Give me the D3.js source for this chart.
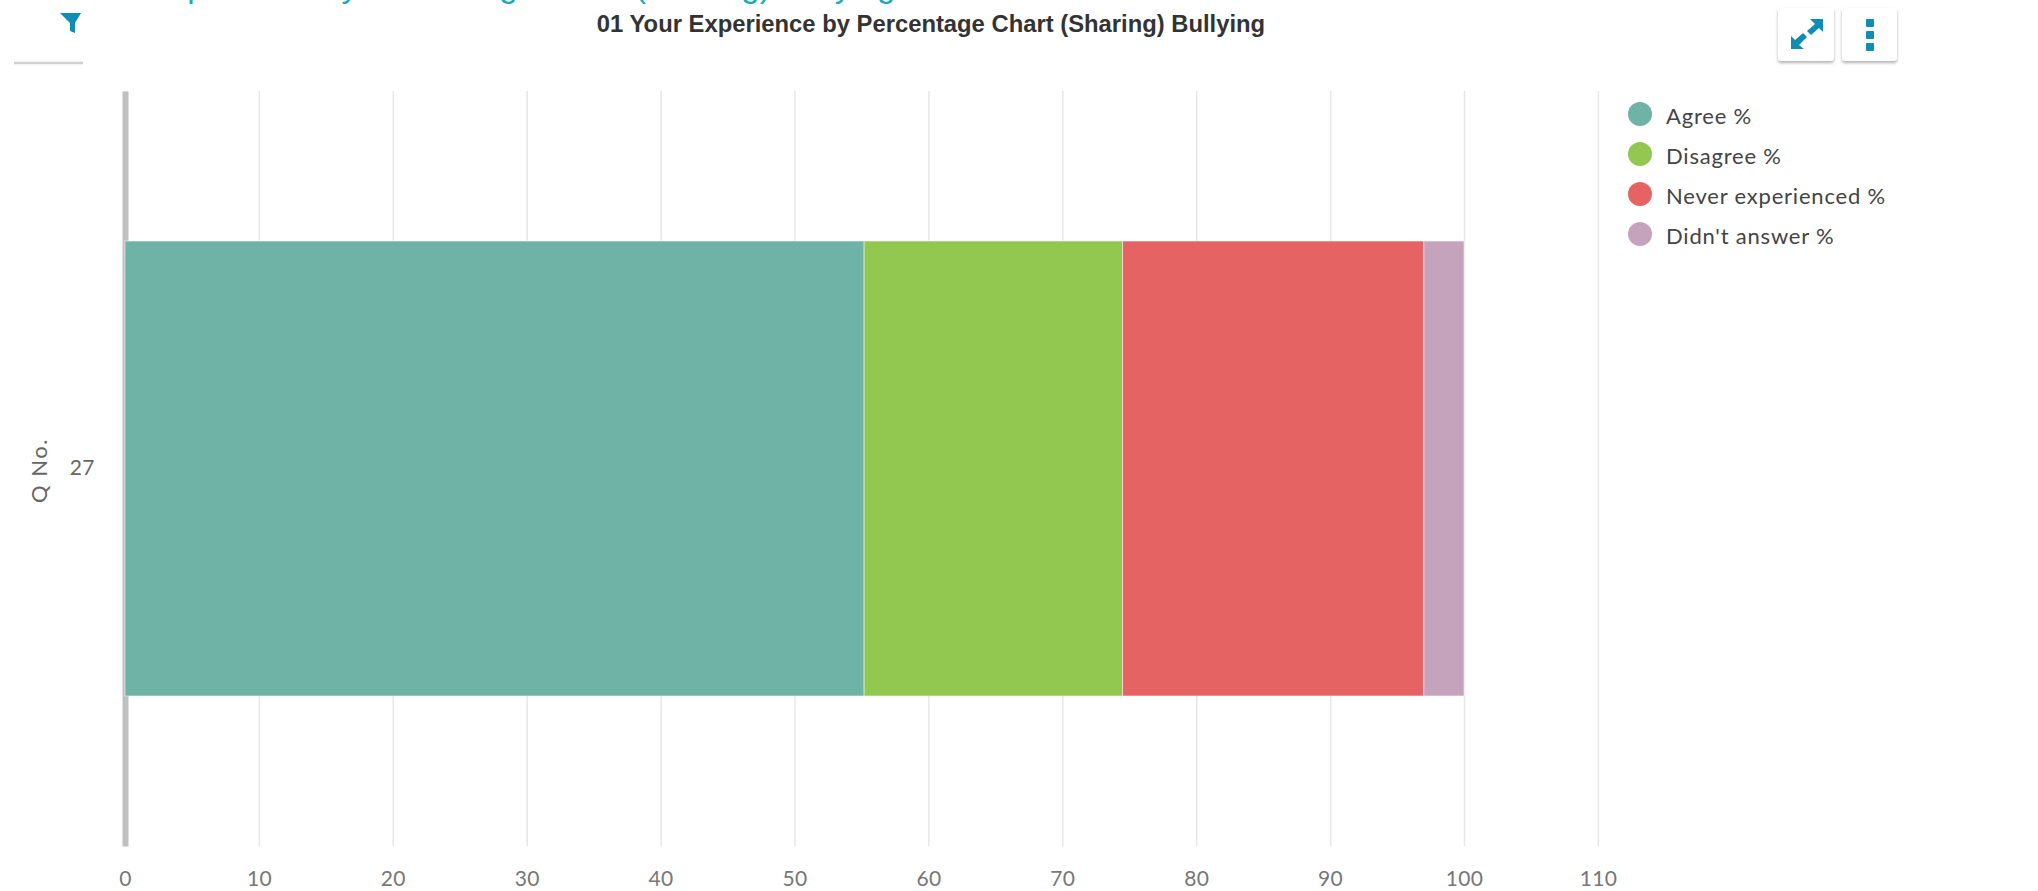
<!DOCTYPE html>
<html>
<head>
<meta charset="utf-8">
<script src="https://cdn.jsdelivr.net/npm/d3@7"></script>
<style>
  html, body { margin: 0; padding: 0; background: #fff; overflow: hidden; }
  svg { display: block; }
  .tick text { font-family: Lato, sans-serif; }
  .btn { fill: #fff; filter: drop-shadow(0 2px 1.5px rgba(0,0,0,0.3)); }
</style>
</head>
<body>
<div class="chart"></div>
<script>
// values
const categories = ["27"];
const seriesNames = ["Agree %", "Disagree %", "Never experienced %", "Didn't answer %"];
const agree = [55.2];
const disagree = [19.3];
const neverExperienced = [22.5];
const didntAnswer = [3.0];
const seriesColors = ["#6eb3a5", "#92c750", "#e56363", "#c6a3bd"];
const xTicks = [0, 10, 20, 30, 40, 50, 60, 70, 80, 90, 100, 110];

const chartTitle = "01 Your Experience by Percentage Chart (Sharing) Bullying";
const pageTitle = "Your Experience by Percentage Chart (Sharing) Bullying";
const yTitle = "Q No.";

const width = 2038, height = 891;
const margin = { top: 91, right: 440, bottom: 45, left: 125 };

const svg = d3.select(".chart")
  .append("svg")
  .attr("width", width)
  .attr("height", height);

// page heading cut off by the top of the screenshot
svg.append("text")
  .attr("x", 73)
  .attr("y", -3)
  .attr("fill", "#1aa9bd")
  .style("font-family", "'Liberation Sans', sans-serif")
  .style("font-size", "33px")
  .text(pageTitle);

svg.append("text")
  .attr("x", 931)
  .attr("y", 32)
  .attr("text-anchor", "middle")
  .attr("fill", "#333")
  .style("font-family", "'Liberation Sans', sans-serif")
  .style("font-weight", "bold")
  .style("font-size", "23.8px")
  .text(chartTitle);

const x = d3.scaleLinear()
  .domain([0, 110])
  .range([margin.left, margin.left + 13.39 * 110]);

const y = d3.scaleBand()
  .domain(categories)
  .range([margin.top, height - margin.bottom])
  .padding(0.248);

// grid + x labels
const xAxis = svg.append("g")
  .attr("transform", `translate(0, ${height - margin.bottom})`)
  .call(d3.axisBottom(x).tickValues(xTicks).tickSize(-(height - margin.bottom - margin.top)).tickPadding(25));
xAxis.select(".domain").remove();
xAxis.selectAll(".tick line").attr("stroke", "#e6e6e6").attr("stroke-width", 1.5);
xAxis.selectAll(".tick text").attr("fill", "#777").style("font-size", "21px").style("letter-spacing", "0.3px");

// y axis, thick grey line
const yAxis = svg.append("g")
  .attr("transform", `translate(${margin.left}, 0)`)
  .call(d3.axisLeft(y).tickSize(0).tickPadding(30));
yAxis.select(".domain").attr("stroke", "#c0c0c0").attr("stroke-width", 6);
yAxis.selectAll(".tick text").attr("fill", "#666").style("font-size", "21px").style("letter-spacing", "0.5px");

svg.append("text")
  .attr("transform", `translate(47, ${y(categories[0]) + y.bandwidth() / 2 + 2}) rotate(-90)`)
  .attr("text-anchor", "middle")
  .attr("fill", "#666")
  .style("font-family", "Lato, sans-serif")
  .style("font-size", "22px")
  .style("letter-spacing", "1.5px")
  .text(yTitle);

// stacked bars
const rows = categories.map((c, i) => ({
  category: c,
  [seriesNames[0]]: agree[i],
  [seriesNames[1]]: disagree[i],
  [seriesNames[2]]: neverExperienced[i],
  [seriesNames[3]]: didntAnswer[i]
}));
const stacked = d3.stack().keys(seriesNames)(rows);
const color = d3.scaleOrdinal().domain(seriesNames).range(seriesColors);

svg.append("g")
  .selectAll("g")
  .data(stacked)
  .join("g")
  .attr("fill", d => color(d.key))
  .selectAll("rect")
  .data(d => d)
  .join("rect")
  .attr("x", d => x(d[0]))
  .attr("y", d => y(d.data.category))
  .attr("width", d => x(d[1]) - x(d[0]))
  .attr("height", y.bandwidth())
  .attr("stroke", "#fff")
  .attr("stroke-opacity", 0.5)
  .attr("stroke-width", 1);

// legend
const legend = svg.append("g")
  .selectAll("g")
  .data(seriesNames)
  .join("g")
  .attr("transform", (d, i) => `translate(1640, ${114 + i * 40})`);
legend.append("circle")
  .attr("r", 12)
  .attr("fill", d => color(d));
legend.append("text")
  .attr("x", 26)
  .attr("y", 10)
  .attr("fill", "#444")
  .style("font-family", "Lato, sans-serif")
  .style("font-size", "22px")
  .style("letter-spacing", "0.8px")
  .text(d => d);

// toolbar buttons
svg.append("line")
  .attr("x1", 14).attr("x2", 83).attr("y1", 63).attr("y2", 63)
  .attr("stroke", "#d0d0d0").attr("stroke-width", 2.5);
svg.append("rect").attr("class", "btn").attr("x", 1778).attr("y", 8).attr("width", 56).attr("height", 53).attr("rx", 3);
svg.append("rect").attr("class", "btn").attr("x", 1842).attr("y", 8).attr("width", 55).attr("height", 53).attr("rx", 3);

const iconColor = "#0f8db5";
// filter funnel
svg.append("path")
  .attr("d", "M60,13 H81 L75,23 V33 L70,31 V23 Z")
  .attr("fill", iconColor);
// expand arrows
svg.append("path")
  .attr("d", "M1823,19 V32 L1819,28 L1811,35 L1807,31 L1815,24 L1810,19 Z M1791,49 V36 L1795,40 L1803,33 L1807,37 L1799,45 L1804,49 Z")
  .attr("fill", iconColor);
// three dots
svg.append("g")
  .selectAll("rect")
  .data([0, 1, 2])
  .join("rect")
  .attr("x", 1866)
  .attr("y", d => 19 + d * 12)
  .attr("width", 8)
  .attr("height", 8)
  .attr("rx", 1)
  .attr("fill", iconColor);
</script>
</body>
</html>
